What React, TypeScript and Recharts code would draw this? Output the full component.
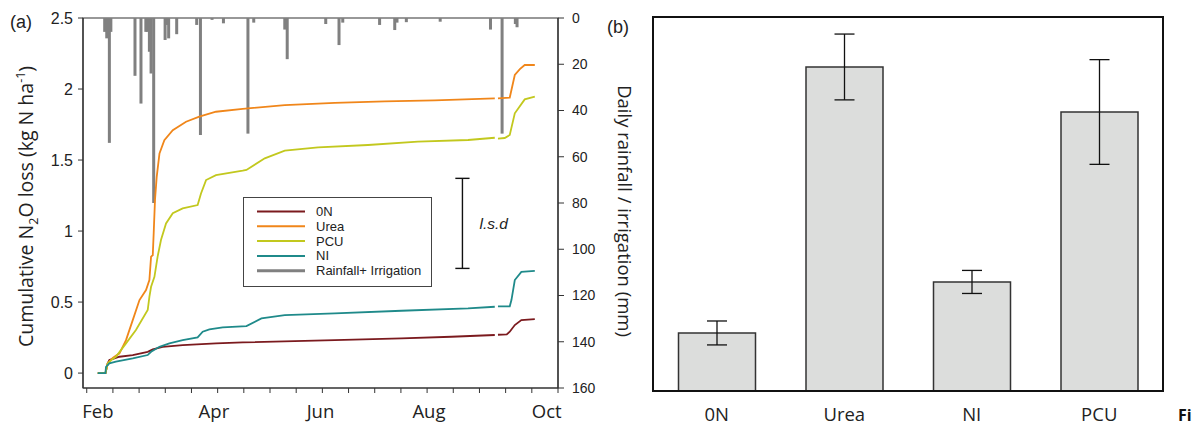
import React from 'react';
import {
  ComposedChart,
  BarChart,
  Bar,
  Line,
  XAxis,
  YAxis,
  ReferenceLine,
  ReferenceArea,
  Legend,
  ErrorBar,
} from 'recharts';

const ARIAL = '"Liberation Sans", Arial, sans-serif';
const CALIBRI = '"Open Sans", sans-serif';

// panel (a): x is days counted from the left edge of the axis (late Jan)
const MINOR_TICKS = [2, 16, 30, 44, 58, 72, 86, 100, 114, 128, 142, 156, 170, 184, 198, 212, 226, 240, 254];
const MONTH_TICKS = [8, 70, 127, 185, 248];
const MONTHS = ['Feb', 'Apr', 'Jun', 'Aug', 'Oct'];
const N2O_TICKS = [0, 0.5, 1, 1.5, 2, 2.5];
const RAIN_TICKS = [0, 20, 40, 60, 80, 100, 120, 140, 160];

// daily rainfall + irrigation, [day, mm]
const RAIN: [number, number][] = [
  [11.6, 6], [12.7, 8.8], [13.4, 6], [14.1, 54], [14.9, 6],
  [27.8, 25], [31.0, 37], [33.6, 6], [34.5, 6], [35.5, 14.6], [36.4, 24], [37.8, 80],
  [43.9, 9.5], [44.8, 3], [45.8, 8.8], [50.1, 7],
  [60.8, 3], [62.8, 50.6], [69.0, 0.8], [75.1, 2.3],
  [88.2, 50], [91.3, 2], [107.9, 5], [109.2, 17.8],
  [129.8, 2.6], [136.9, 11.7], [138.9, 2], [158.6, 3],
  [166.7, 5.2], [167.9, 2], [172.9, 1.8], [191.0, 1.6],
  [217.9, 5], [224.1, 50], [231.2, 2.6], [232.1, 4],
];

// cumulative N2O loss (kg N/ha), [day, value]; null = gap in the record
const ZERO_N: [number, number | null][] = [
  [7.9, 0], [12, 0], [13.2, 0.068], [14.1, 0.092], [19.5, 0.115], [26.6, 0.127],
  [34.6, 0.15], [37.3, 0.167], [42.6, 0.185], [53.3, 0.197], [71.1, 0.209],
  [85.4, 0.216], [134.6, 0.232], [170.3, 0.244], [197, 0.256], [220.2, 0.268],
  [221, null],
  [221.9, 0.27], [226.6, 0.272], [228.2, 0.291], [230.9, 0.338], [234.4, 0.373], [241.6, 0.38],
];

const UREA: [number, number | null][] = [
  [7.9, 0], [12, 0], [13.2, 0.068], [15.9, 0.106], [19.5, 0.139], [23, 0.232],
  [26.6, 0.373], [30.2, 0.514], [33.7, 0.585], [35.5, 0.655], [36.4, 0.82],
  [37.3, 0.83], [37.8, 0.985], [38.5, 1.22], [39.4, 1.38], [40.9, 1.547],
  [43.5, 1.64], [48, 1.71], [55.1, 1.77], [62.2, 1.805], [71.1, 1.84],
  [85.4, 1.86], [107.9, 1.887], [134.6, 1.903], [161.3, 1.913], [188, 1.92], [220.2, 1.934],
  [221, null],
  [221.9, 1.934], [228.2, 1.94], [230.9, 2.099], [233.6, 2.14], [236.2, 2.169], [241.6, 2.169],
];

const PCU: [number, number | null][] = [
  [7.9, 0], [12, 0], [13.2, 0.068], [15.9, 0.1], [17.6, 0.115], [23, 0.209],
  [28.3, 0.303], [34.6, 0.444], [35.5, 0.537], [36.4, 0.608], [38.2, 0.678],
  [39.9, 0.82], [41.7, 0.937], [44.4, 1.054], [48, 1.125], [53.3, 1.16],
  [61.3, 1.183], [63.1, 1.265], [65.8, 1.359], [71.1, 1.394], [85.4, 1.425],
  [87.4, 1.43], [97.2, 1.512], [107.9, 1.566], [125.7, 1.589], [152.4, 1.606],
  [179.1, 1.629], [205.9, 1.641], [220.2, 1.657],
  [221, null],
  [221.9, 1.65], [225.5, 1.655], [228.2, 1.676], [230.9, 1.829], [236.2, 1.927], [241.6, 1.946],
];

const NI: [number, number | null][] = [
  [7.9, 0], [12, 0], [12.3, 0.044], [14.1, 0.068], [17.6, 0.08], [26.6, 0.103],
  [34.6, 0.127], [36.4, 0.15], [40.9, 0.185], [46.2, 0.209], [53.3, 0.232],
  [61.3, 0.251], [64, 0.291], [67.6, 0.308], [74.7, 0.322], [87.4, 0.331],
  [95.4, 0.385], [107.9, 0.408], [134.6, 0.42], [170.3, 0.439], [205.9, 0.455], [220.2, 0.467],
  [221, null],
  [221.9, 0.47], [228.2, 0.47], [229.1, 0.514], [230.9, 0.655], [234.4, 0.713], [241.6, 0.72],
];

// least significant difference bar
const LSD = 0.634;
const LSD_DAY = 202.9;
const LSD_BASE = 0.737;

// panel (b): season totals
const TREATMENTS = ['0N', 'Urea', 'NI', 'PCU'];
const TOTALS = [0.388, 2.166, 0.729, 1.865];
const TOTAL_ERR = [0.08, 0.22, 0.077, 0.35];
const TOTAL_TICKS = [0.5, 1, 1.5, 2];

const SERIES = [
  { name: '0N', data: ZERO_N, color: '#7b1a1e' },
  { name: 'Urea', data: UREA, color: '#f0861a' },
  { name: 'PCU', data: PCU, color: '#c2c81e' },
  { name: 'NI', data: NI, color: '#1f8a8a' },
];
const RAIN_COLOR = '#808080';
const AXIS = '#333';

function LegendBox() {
  const rows = [...SERIES.map((s) => ({ name: s.name, color: s.color, w: 2 })), { name: 'Rainfall+ Irrigation', color: RAIN_COLOR, w: 3 }];
  return (
    <svg width={189} height={90}>
      <rect x={0.5} y={0.5} width={188} height={89} fill="#fff" stroke="#444" />
      {rows.map((r, i) => (
        <g key={r.name}>
          <line x1={14} x2={62} y1={14.5 + i * 14.8} y2={14.5 + i * 14.8} stroke={r.color} strokeWidth={r.w} />
          <text x={73} y={14.5 + i * 14.8} dy="0.35em" fontFamily={ARIAL} fontSize={13} fill="#222">
            {r.name}
          </text>
        </g>
      ))}
    </svg>
  );
}

// minor ticks get a tick mark, month ticks get their label
function DateTick({ x, y, payload }: any) {
  const i = MONTH_TICKS.indexOf(payload.value);
  if (i >= 0) {
    return (
      <text x={x} y={y + 30} textAnchor="middle" fontFamily={CALIBRI} fontSize={18.5} fill="#222">
        {MONTHS[i]}
      </text>
    );
  }
  return <line x1={x} x2={x} y1={y} y2={y + 5} stroke={AXIS} strokeWidth={1} />;
}

// rain bars hang from the top; keep them 3px wide however close the days are
function RainBar({ x, y, width, height }: any) {
  if (height == null || Number.isNaN(height)) return null;
  const top = Math.min(y, y + height);
  return <rect x={x + width / 2 - 1.5} y={top} width={3} height={Math.abs(height)} fill={RAIN_COLOR} />;
}

function LeftTitle({ viewBox }: any) {
  const cx = viewBox.x - 10;
  const cy = 206.5;
  return (
    <text x={cx} y={cy} transform={`rotate(-90, ${cx}, ${cy})`} textAnchor="middle" fontFamily={CALIBRI} fontSize={19.5} fill="#222">
      Cumulative N<tspan dy={5} fontSize={12.5}>2</tspan>
      <tspan dy={-5}>O loss (kg N ha</tspan>
      <tspan dy={-8} fontSize={12.5}>-1</tspan>
      <tspan dy={8}>)</tspan>
    </text>
  );
}

function RightTitle({ viewBox }: any) {
  const cx = viewBox.x + 59.5;
  const cy = 211;
  return (
    <text x={cx} y={cy} transform={`rotate(90, ${cx}, ${cy})`} textAnchor="middle" fontFamily={CALIBRI} fontSize={18.5} fill="#222">
      Daily rainfall / irrigation (mm)
    </text>
  );
}

function PanelA() {
  const rainData = RAIN.map(([day, rain]) => ({ day, rain }));
  const dateTicks = [...MINOR_TICKS, ...MONTH_TICKS].sort((a, b) => a - b);
  return (
    <ComposedChart width={645} height={428} data={rainData} margin={{ top: 18, right: 47, bottom: 0, left: 43 }}>
      <XAxis
        xAxisId="x"
        type="number"
        dataKey="day"
        domain={[0, 254]}
        ticks={dateTicks}
        interval={0}
        tick={<DateTick />}
        tickLine={false}
        tickSize={0}
        tickMargin={0}
        height={40}
        allowDataOverflow
        axisLine={{ stroke: AXIS, strokeWidth: 1.2 }}
      />
      <YAxis
        yAxisId="n2o"
        domain={[-0.105, 2.5]}
        ticks={N2O_TICKS}
        allowDataOverflow
        width={40}
        tickSize={5}
        tickMargin={5}
        axisLine={{ stroke: AXIS, strokeWidth: 1.2 }}
        tickLine={{ stroke: AXIS }}
        tick={{ fontSize: 16, fontFamily: ARIAL, fill: '#222' }}
        label={{ content: (p: any) => <LeftTitle {...p} /> }}
      />
      <YAxis
        yAxisId="rain"
        orientation="right"
        reversed
        domain={[0, 160]}
        ticks={RAIN_TICKS}
        allowDataOverflow
        width={40}
        tickSize={6}
        tickMargin={8}
        axisLine={{ stroke: AXIS, strokeWidth: 1.2 }}
        tickLine={{ stroke: AXIS }}
        tick={{ fontSize: 14, fontFamily: ARIAL, fill: '#222' }}
        label={{ content: (p: any) => <RightTitle {...p} /> }}
      />
      <ReferenceArea
        xAxisId="x"
        yAxisId="n2o"
        x1={0}
        x2={254}
        y1={-0.105}
        y2={2.5}
        fill="none"
        fillOpacity={0}
        stroke={AXIS}
        strokeWidth={1.2}
        ifOverflow="visible"
      />
      <Bar xAxisId="x" yAxisId="rain" dataKey="rain" fill={RAIN_COLOR} shape={<RainBar />} isAnimationActive={false} />
      {SERIES.map((s) => (
        <Line
          key={s.name}
          xAxisId="x"
          yAxisId="n2o"
          data={s.data.map(([day, v]) => ({ day, v }))}
          dataKey="v"
          name={s.name}
          type="linear"
          stroke={s.color}
          strokeWidth={1.8}
          dot={false}
          activeDot={false}
          isAnimationActive={false}
        />
      ))}
      <ReferenceLine
        xAxisId="x"
        yAxisId="n2o"
        segment={[{ x: LSD_DAY, y: LSD_BASE }, { x: LSD_DAY, y: LSD_BASE + LSD }]}
        stroke="#111"
        strokeWidth={1.4}
        label={{ value: 'l.s.d', position: 'right', offset: 17, fontFamily: ARIAL, fontStyle: 'italic', fontSize: 15.5, fill: '#222' }}
      />
      <ReferenceLine
        xAxisId="x"
        yAxisId="n2o"
        segment={[{ x: LSD_DAY - 3.8, y: LSD_BASE }, { x: LSD_DAY + 3.8, y: LSD_BASE }]}
        stroke="#111"
        strokeWidth={1.4}
      />
      <ReferenceLine
        xAxisId="x"
        yAxisId="n2o"
        segment={[{ x: LSD_DAY - 3.8, y: LSD_BASE + LSD }, { x: LSD_DAY + 3.8, y: LSD_BASE + LSD }]}
        stroke="#111"
        strokeWidth={1.4}
      />
      <Legend
        layout="horizontal"
        verticalAlign="middle"
        align="center"
        content={() => <LegendBox />}
        wrapperStyle={{ left: 243, top: 197, width: 189, height: 90 }}
      />
    </ComposedChart>
  );
}

function PanelB() {
  const totalsData = TREATMENTS.map((name, i) => ({ name, total: TOTALS[i], err: TOTAL_ERR[i] }));
  const frame = { stroke: '#111', strokeWidth: 2 };
  return (
    <BarChart width={602} height={428} data={totalsData} margin={{ top: 17, right: 39, bottom: 7, left: 53 }} barCategoryGap="20%">
      <XAxis
        dataKey="name"
        interval={0}
        axisLine={frame}
        tickLine={false}
        tickSize={0}
        tickMargin={17}
        height={30}
        tick={{ fontSize: 18.5, fontFamily: CALIBRI, fill: '#222' }}
      />
      <YAxis yAxisId="l" domain={[0, 2.5]} ticks={TOTAL_TICKS} mirror tick={false} tickSize={7} width={0} axisLine={frame} tickLine={{ stroke: '#111', strokeWidth: 1.5 }} />
      <YAxis yAxisId="r" orientation="right" domain={[0, 2.5]} ticks={TOTAL_TICKS} mirror tick={false} tickSize={7} width={0} axisLine={frame} tickLine={{ stroke: '#111', strokeWidth: 1.5 }} />
      <ReferenceArea yAxisId="l" y1={0} y2={2.5} fill="none" fillOpacity={0} stroke="#111" strokeWidth={2} ifOverflow="visible" />
      <Bar yAxisId="l" dataKey="total" fill="#dcdddc" stroke="#333" strokeWidth={1.5} isAnimationActive={false}>
        <ErrorBar dataKey="err" width={10} stroke="#111" strokeWidth={1.3} direction="y" />
      </Bar>
    </BarChart>
  );
}

export default function App() {
  return (
    <div style={{ position: 'absolute', left: 0, top: 0, width: 1202, height: 428, background: '#fff', overflow: 'hidden' }}>
      <div style={{ position: 'absolute', left: 0, top: 0 }}>
        <PanelA />
      </div>
      <div style={{ position: 'absolute', left: 600, top: 0 }}>
        <PanelB />
      </div>
      <svg width={1202} height={428} style={{ position: 'absolute', left: 0, top: 0, pointerEvents: 'none' }}>
        <text x={10} y={28} fontFamily={ARIAL} fontSize={18} fill="#222">(a)</text>
        <text x={607} y={33} fontFamily={ARIAL} fontSize={18} fill="#222">(b)</text>
        <text x={1178} y={421} fontFamily={CALIBRI} fontWeight={700} fontSize={16} fill="#111">Fi</text>
      </svg>
    </div>
  );
}
